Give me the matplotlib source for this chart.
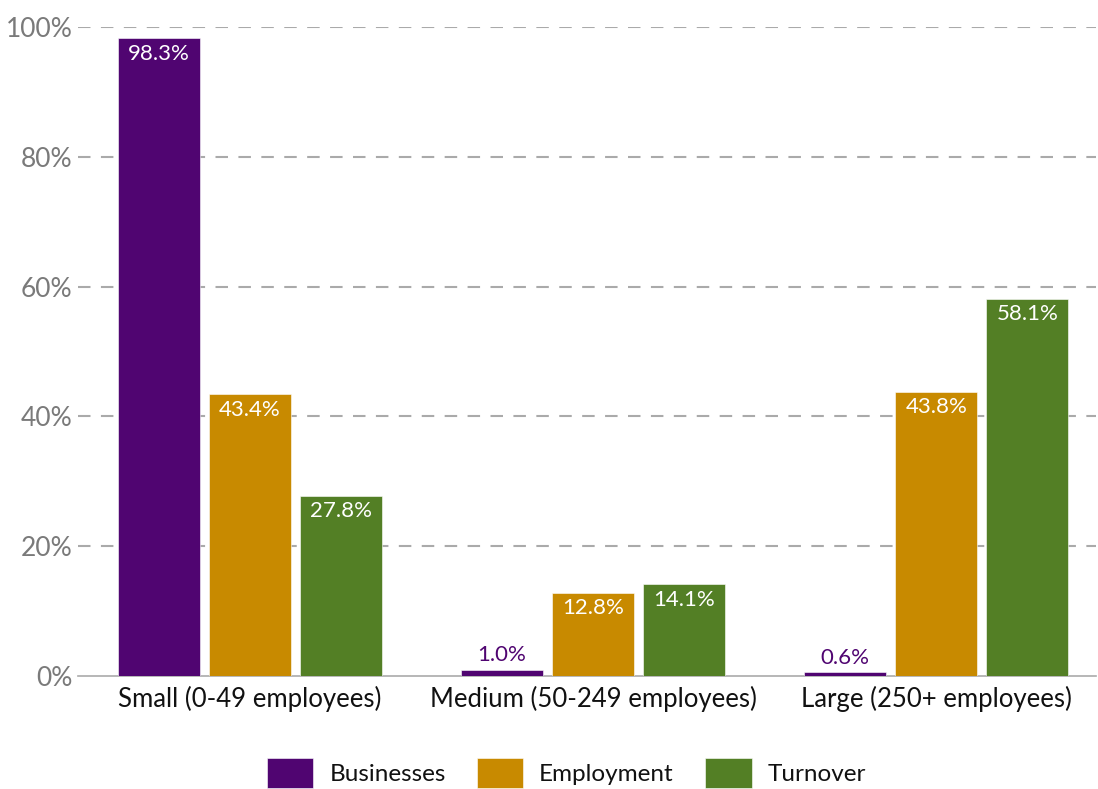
import matplotlib
matplotlib.use("Agg")
import matplotlib.pyplot as plt
import numpy as np

categories = ["Small (0-49 employees)", "Medium (50-249 employees)", "Large (250+ employees)"]
series_names = ["Businesses", "Employment", "Turnover"]
businesses = [98.3, 1.0, 0.6]
employment = [43.4, 12.8, 43.8]
turnover = [27.8, 14.1, 58.1]
yticks = [0, 20, 40, 60, 80, 100]
ytick_labels = ["0%", "20%", "40%", "60%", "80%", "100%"]

colors = ["#500571", "#C88A00", "#537F25"]
FONT = ["Lato", "DejaVu Sans"]
plt.rcParams["font.family"] = FONT

W, H = 1098, 789
fig = plt.figure(figsize=(W / 100, H / 100), dpi=100)
ax = fig.add_axes([78 / W, 1 - 676 / H, (1096 - 78) / W, (676 - 27) / H])

x = np.arange(len(categories))
width = 0.239
offset = 0.265
all_series = [businesses, employment, turnover]
for i, (name, vals) in enumerate(zip(series_names, all_series)):
    xs = x + (i - 1) * offset
    ax.bar(xs, vals, width=width, color=colors[i], label=name,
           edgecolor="#ffffff", linewidth=0.4, zorder=3)
    for xi, v in zip(xs, vals):
        if v >= 5:
            ax.annotate(f"{v:.1f}%", (xi, v), xytext=(0, -4), textcoords="offset points",
                        ha="center", va="top", color="white", fontsize=16, zorder=4)
        else:
            ax.annotate(f"{v:.1f}%", (xi, v), xytext=(0, 3), textcoords="offset points",
                        ha="center", va="bottom", color=colors[0], fontsize=16, zorder=4)

ax.set_xlim(-0.5, 2.465)
ax.set_ylim(0, 100)
ax.set_yticks(yticks)
ax.set_yticklabels(ytick_labels)
ax.set_xticks(x)
ax.set_xticklabels(categories)
ax.tick_params(axis="y", length=0, pad=4, labelsize=19, labelcolor="#7a7a7a")
ax.tick_params(axis="x", length=0, pad=7, labelsize=18.5, labelcolor="#111111")
for s in ["top", "right", "left"]:
    ax.spines[s].set_visible(False)
ax.spines["bottom"].set_color("#aaaaaa")
ax.spines["bottom"].set_linewidth(1.2)
for yv in yticks[1:]:
    ax.axhline(yv, color="#aaaaaa", linewidth=1.5, linestyle=(0, (6, 5)), zorder=1)

leg = fig.legend(loc="lower center", bbox_to_anchor=(0.516, -0.027), ncol=3, frameon=False,
                 fontsize=17.5, handlelength=1.9, handleheight=1.55, columnspacing=1.3,
                 handletextpad=0.65)
for t in leg.get_texts():
    t.set_color("#111111")

fig.savefig("out.png", dpi=100)
